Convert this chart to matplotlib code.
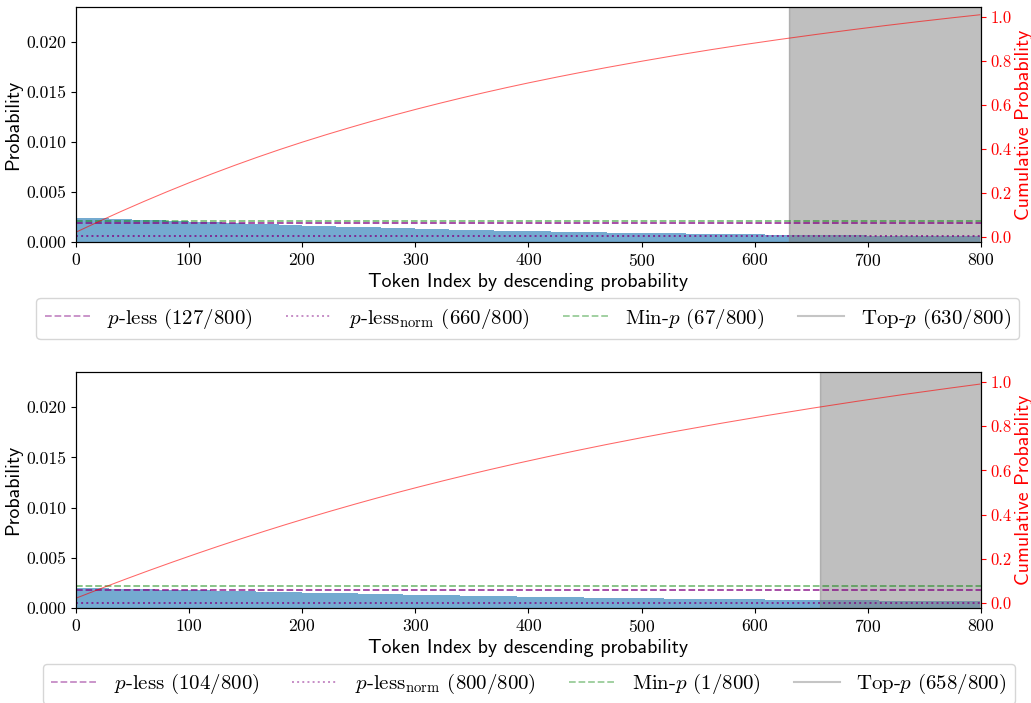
import numpy as np
import matplotlib
matplotlib.use('Agg')
from matplotlib import pyplot as plt
from matplotlib.lines import Line2D

# ---- data ----
n_tokens = 800
block = 10  # each value below covers 10 consecutive tokens

# panel 1
first_prob_1 = 0.0215
blocks_1 = [0.00243, 0.00239, 0.00235, 0.00231, 0.00227, 0.00223, 0.00219, 0.00215, 0.00211, 0.00207,
            0.00203, 0.00199, 0.00195, 0.00191, 0.00187, 0.00183, 0.00179, 0.00175, 0.00171, 0.00167,
            0.00163, 0.00159, 0.00157, 0.00153, 0.00151, 0.00147, 0.00145, 0.00141, 0.00139, 0.00135,
            0.00133, 0.00129, 0.00128, 0.00124, 0.00123, 0.00119, 0.00118, 0.00114, 0.00113, 0.00109,
            0.00107, 0.00105, 0.00103, 0.00101, 0.00099, 0.00097, 0.00096, 0.00094, 0.00093, 0.00091,
            0.00090, 0.00088, 0.00087, 0.00085, 0.00084, 0.00082, 0.00081, 0.00079, 0.00078, 0.00076,
            0.00075, 0.00073, 0.00072, 0.00071, 0.00070, 0.00069, 0.00068, 0.00067, 0.00066, 0.00065,
            0.00064, 0.00063, 0.00062, 0.00061, 0.00060, 0.00059, 0.00058, 0.00057, 0.00056, 0.00055]
p_less_1 = 0.0019
p_less_norm_1 = 0.00063
min_p_1 = 0.0021
top_p_cut_1 = 630
counts_1 = [127, 660, 67, 630]

# panel 2
first_prob_2 = 0.0215
blocks_2 = [0.00201, 0.00199, 0.00196, 0.00194, 0.00191, 0.00189, 0.00186, 0.00184, 0.00181, 0.00179,
            0.00177, 0.00175, 0.00172, 0.00170, 0.00167, 0.00165, 0.00163, 0.00161, 0.00158, 0.00156,
            0.00154, 0.00152, 0.00149, 0.00147, 0.00145, 0.00143, 0.00140, 0.00138, 0.00136, 0.00134,
            0.00131, 0.00129, 0.00127, 0.00125, 0.00123, 0.00121, 0.00119, 0.00117, 0.00116, 0.00114,
            0.00112, 0.00110, 0.00109, 0.00107, 0.00106, 0.00104, 0.00103, 0.00101, 0.00100, 0.00098,
            0.00097, 0.00095, 0.00094, 0.00092, 0.00092, 0.00090, 0.00090, 0.00088, 0.00088, 0.00086,
            0.00086, 0.00084, 0.00084, 0.00082, 0.00082, 0.00080, 0.00080, 0.00078, 0.00078, 0.00076,
            0.00076, 0.00074, 0.00074, 0.00072, 0.00072, 0.00070, 0.00070, 0.00069, 0.00069, 0.00067]
p_less_2 = 0.00178
p_less_norm_2 = 0.00055
min_p_2 = 0.00215
top_p_cut_2 = 658
counts_2 = [104, 800, 1, 658]

plt.rcParams['font.family'] = 'serif'
plt.rcParams['font.serif'] = ['cmr10']
plt.rcParams['mathtext.fontset'] = 'cm'
plt.rcParams['axes.unicode_minus'] = False
plt.rcParams['axes.formatter.use_mathtext'] = True

fig = plt.figure(figsize=(10.31, 7.03), dpi=100)
ax_boxes = [[0.0737, 0.6558, 0.8778, 0.3342], [0.0737, 0.1351, 0.8778, 0.3357]]
legend_pos = [(0.512, 0.547), (0.513, 0.027)]

panels = [(first_prob_1, blocks_1, p_less_1, p_less_norm_1, min_p_1, top_p_cut_1, counts_1),
          (first_prob_2, blocks_2, p_less_2, p_less_norm_2, min_p_2, top_p_cut_2, counts_2)]

for i, (first, blocks, pl, pln, mp, cut, counts) in enumerate(panels):
    probs = np.repeat(blocks, block)[:n_tokens]
    probs[0] = first
    idx = np.arange(n_tokens)

    ax = fig.add_axes(ax_boxes[i])
    ax.bar(idx, probs, width=1.0, color='tab:blue', alpha=0.62, linewidth=0)
    ax.axvspan(cut, n_tokens, color='gray', alpha=0.5, zorder=3)
    ax.axhline(pl, color='purple', alpha=0.75, linestyle='--', linewidth=1.3, zorder=4)
    ax.axhline(pln, color='purple', alpha=0.75, linestyle=':', linewidth=1.4, zorder=4)
    ax.axhline(mp, color='green', alpha=0.5, linestyle='--', linewidth=1.3, zorder=4)
    ax.set_xlim(0, n_tokens)
    ax.set_ylim(0, 0.0235)
    ax.set_xticks(np.arange(0, 801, 100))
    ax.set_yticks([0, 0.005, 0.01, 0.015, 0.02])
    ax.set_yticklabels(['0.000', '0.005', '0.010', '0.015', '0.020'])
    ax.tick_params(labelsize=12.7)
    ax.set_xlabel('Token Index by descending probability', family='cmss10', fontsize=14.3, labelpad=3)
    ax.set_ylabel('Probability', family='cmss10', fontsize=14.3, labelpad=3)

    ax2 = ax.twinx()
    ax2.plot(idx, np.cumsum(probs), color='red', alpha=0.6, linewidth=0.75)
    ax2.set_ylim(-0.023, 1.045)
    ax2.set_yticks([0, 0.2, 0.4, 0.6, 0.8, 1.0])
    ax2.set_yticklabels(['0.0', '0.2', '0.4', '0.6', '0.8', '1.0'])
    ax2.tick_params(axis='y', colors='red', labelsize=12)
    ax2.set_ylabel('Cumulative Probability', family='cmss10', fontsize=14.3, color='red', labelpad=2)

    handles = [Line2D([], [], color='purple', alpha=0.45, linestyle='--', linewidth=1.3),
               Line2D([], [], color='purple', alpha=0.45, linestyle=':', linewidth=1.4),
               Line2D([], [], color='green', alpha=0.4, linestyle='--', linewidth=1.3),
               Line2D([], [], color='gray', alpha=0.45, linestyle='-', linewidth=1.5)]
    labels = ['$p$-less (%d/800)' % counts[0],
              r'$p$-less$_{\mathrm{norm}}$ (%d/800)' % counts[1],
              'Min-$p$ (%d/800)' % counts[2],
              'Top-$p$ (%d/800)' % counts[3]]
    fig.legend(handles, labels, loc='center', bbox_to_anchor=legend_pos[i], ncol=4,
               fontsize=15, handlelength=2.2, columnspacing=1.6)

fig.savefig('out.png', dpi=100)
